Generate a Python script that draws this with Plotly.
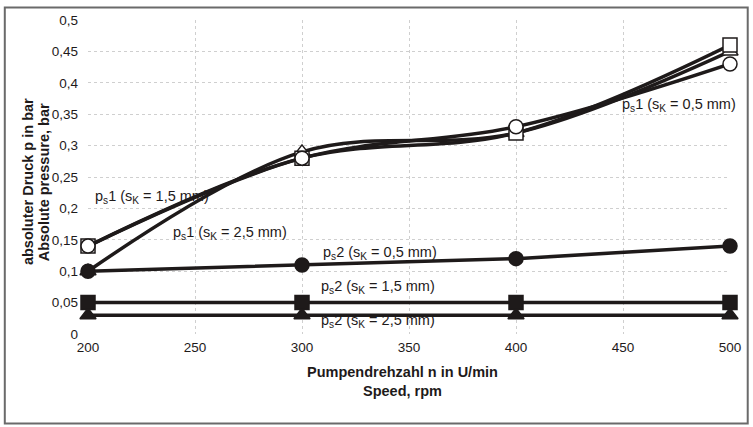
import plotly.graph_objects as go

speed = [200, 300, 400, 500]
ps1_05 = [0.14, 0.28, 0.33, 0.43]
ps1_15 = [0.14, 0.28, 0.32, 0.46]
ps1_25 = [0.10, 0.29, 0.32, 0.45]
ps2_05 = [0.10, 0.11, 0.12, 0.14]
ps2_15 = [0.05, 0.05, 0.05, 0.05]
ps2_25 = [0.03, 0.03, 0.03, 0.03]
x_ticks = [200, 250, 300, 350, 400, 450, 500]
y_ticks = [0, 0.05, 0.1, 0.15, 0.2, 0.25, 0.3, 0.35, 0.4, 0.45, 0.5]

INK = "#1e1a1a"
fig = go.Figure()

def add(y, symbol, fill, spline):
    fig.add_trace(go.Scatter(
        x=speed, y=y, mode="lines+markers",
        line=dict(color=INK, width=3.5, shape="spline" if spline else "linear", smoothing=1.0),
        marker=dict(symbol=symbol, size=14, color=fill, line=dict(color=INK, width=1.5)),
        cliponaxis=False, showlegend=False))

add(ps1_25, "triangle-up", "white", True)
add(ps1_15, "square", "white", True)
add(ps1_05, "circle", "white", True)
add(ps2_25, "triangle-up", INK, False)
add(ps2_15, "square", INK, False)
add(ps2_05, "circle", INK, False)

F = "Liberation Sans, Arial, sans-serif"
labels = [
    (93, 197, "p<sub>s</sub>1 (s<sub>K</sub> = 1,5 mm)"),
    (172, 233, "p<sub>s</sub>1 (s<sub>K</sub> = 2,5 mm)"),
    (628, 105, "p<sub>s</sub>1 (s<sub>K</sub> = 0,5 mm)"),
    (325, 253, "p<sub>s</sub>2 (s<sub>K</sub> = 0,5 mm)"),
    (323, 287, "p<sub>s</sub>2 (s<sub>K</sub> = 1,5 mm)"),
    (323, 321, "p<sub>s</sub>2 (s<sub>K</sub> = 2,5 mm)"),
]
W, H = 753, 427
L, R, T, B = 88, 13, 20, 93
pw, ph = W - L - R, H - T - B
def px(xp): return (xp - L) / pw
def py(yp): return 1 - (yp - T) / ph

for xp, yp, t in labels:
    fig.add_annotation(x=px(xp), y=py(yp), xref="paper", yref="paper", text=t,
                       showarrow=False, xanchor="left", yanchor="middle",
                       font=dict(family=F, size=14.5, color=INK))

fig.add_annotation(x=px(17), y=py(182), xref="paper", yref="paper",
                   text="<b>absoluter Druck p in bar</b>", textangle=-90, showarrow=False,
                   font=dict(family=F, size=14.5, color=INK))
fig.add_annotation(x=px(33.5), y=py(182), xref="paper", yref="paper",
                   text="<b>Absolute pressure, bar</b>", textangle=-90, showarrow=False,
                   font=dict(family=F, size=14.5, color=INK))
fig.add_annotation(x=px(407), y=py(382), xref="paper", yref="paper",
                   text="<b>Pumpendrehzahl n in U/min</b>", showarrow=False,
                   font=dict(family=F, size=14.5, color=INK))
fig.add_annotation(x=px(407), y=py(401), xref="paper", yref="paper",
                   text="<b>Speed, rpm</b>", showarrow=False,
                   font=dict(family=F, size=14.5, color=INK))

fig.add_shape(type="rect", xref="paper", yref="paper",
              x0=px(3.5), x1=px(758), y0=py(423.5), y1=py(7.5),
              line=dict(color="#6a6a6a", width=2), layer="below")

fig.update_layout(
    width=W, height=H, autosize=False, margin=dict(l=L, r=R, t=T, b=B),
    plot_bgcolor="white", paper_bgcolor="white", separators=", ",
    font=dict(family=F, size=13.5, color=INK),
    xaxis=dict(range=[200, 500], tickvals=x_ticks, showgrid=True, gridcolor="#cfcfcf",
               griddash="dot", gridwidth=1, zeroline=False, showline=False,
               ticks="", tickfont=dict(size=13.5), ticklabelstandoff=3),
    yaxis=dict(range=[0, 0.5], tickvals=y_ticks, ticktext=[("%g" % v).replace(".", ",") for v in y_ticks],
               showgrid=True, gridcolor="#cfcfcf", griddash="dot", gridwidth=1,
               zeroline=False, showline=False, ticks="", tickfont=dict(size=13.5),
               ticklabelstandoff=9),
)
fig.write_html("out.html", config={"responsive": False, "displayModeBar": False})
with open("out.html", "r", encoding="utf-8") as f:
    html = f.read()
html = html.replace("<head>", "<head><style>html,body{margin:0;padding:0;overflow:hidden}</style>", 1)
with open("out.html", "w", encoding="utf-8") as f:
    f.write(html)
